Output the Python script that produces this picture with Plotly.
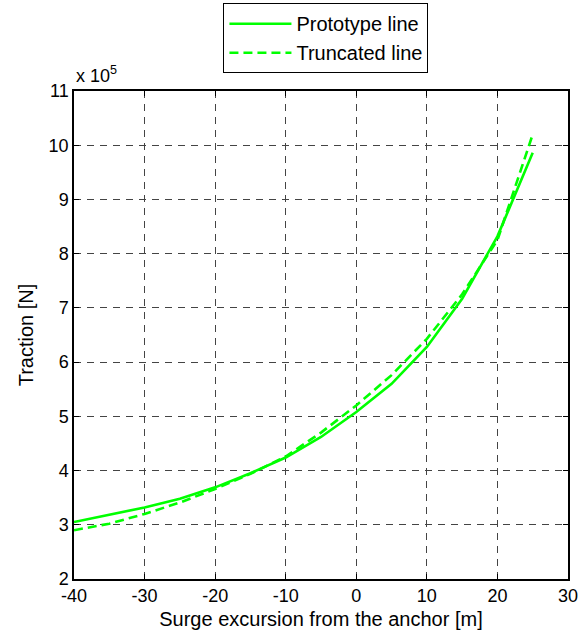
import plotly.graph_objects as go

# Surge excursion [m]
surge = [-40, -35, -30, -25, -20, -15, -10, -5, 0, 5, 10, 15, 20, 25]
# Traction [x 1e5 N]
prototype = [3.05, 3.18, 3.32, 3.48, 3.69, 3.95, 4.24, 4.62, 5.08, 5.60, 6.28, 7.17, 8.32, 9.86]
truncated = [2.90, 3.02, 3.20, 3.41, 3.66, 3.94, 4.26, 4.70, 5.20, 5.76, 6.43, 7.25, 8.25, 10.20]

xticks = [-40, -30, -20, -10, 0, 10, 20, 30]
yticks = [2, 3, 4, 5, 6, 7, 8, 9, 10, 11]

font = "Liberation Sans, Arial, sans-serif"
green = "#00FF00"

fig = go.Figure()
fig.add_trace(go.Scatter(x=surge, y=prototype, mode="lines", name="Prototype line",
                         line=dict(color=green, width=2.6)))
fig.add_trace(go.Scatter(x=surge, y=truncated, mode="lines", name="Truncated line",
                         line=dict(color=green, width=2.6, dash="9px,5px")))

axis_common = dict(
    showline=True, linecolor="black", linewidth=1.5, mirror="ticks",
    ticks="inside", ticklen=5, tickcolor="black",
    showgrid=True, gridcolor="#444444", griddash="7px,6px", gridwidth=1,
    zeroline=False, automargin=False,
    tickfont=dict(family=font, size=18, color="black"),
)

fig.update_xaxes(range=[-40, 30], tickvals=xticks, ticktext=[str(v) for v in xticks],
                 title=dict(text="Surge excursion from the anchor [m]",
                            font=dict(family=font, size=20, color="black"), standoff=7),
                 **axis_common)
fig.update_yaxes(range=[2, 11], tickvals=yticks, ticktext=[str(v) for v in yticks],
                 title=dict(text="Traction [N]",
                            font=dict(family=font, size=20, color="black"), standoff=10),
                 **axis_common)

fig.add_annotation(x=0, y=1, xref="paper", yref="paper", xanchor="left", yanchor="bottom",
                   text="x 10<sup>5</sup>", showarrow=False, yshift=3,
                   font=dict(family=font, size=18, color="black"))

fig.update_layout(
    width=581, height=637,
    margin=dict(l=74, r=13, t=91, b=58, autoexpand=False),
    paper_bgcolor="white", plot_bgcolor="white",
    font=dict(family=font, size=18, color="black"),
    legend=dict(x=0.51, y=0.995, xref="paper", yref="container",
                xanchor="center", yanchor="top",
                bordercolor="black", borderwidth=1, bgcolor="white",
                itemwidth=62,
                font=dict(family=font, size=20, color="black"),
                tracegroupgap=0),
    showlegend=True,
)

fig.write_html("out.html")
